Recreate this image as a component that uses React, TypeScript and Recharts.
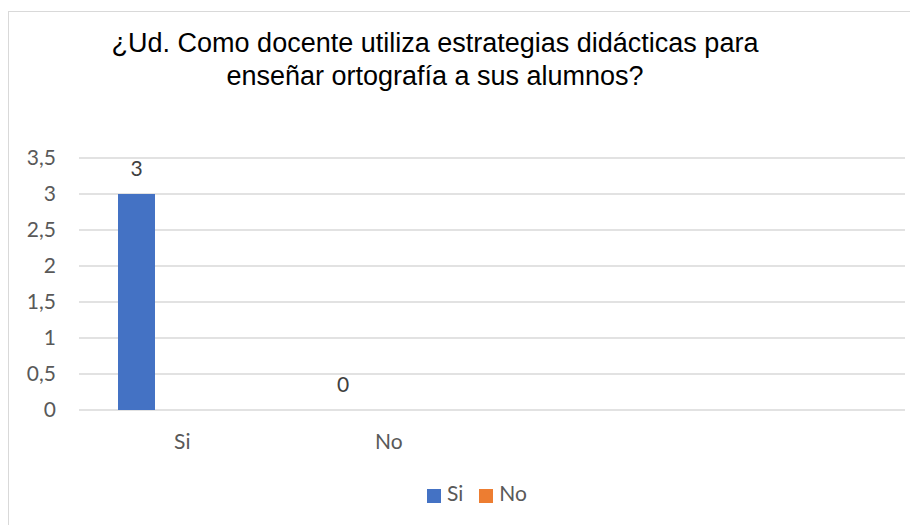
import { BarChart, Bar, XAxis, YAxis, CartesianGrid, Legend } from 'recharts';

const categories = ['Si', 'No', '', ''];
const siValues = [3, 0, null, null];
const noValues = [null, null, null, null];
const yTicks = [0, 0.5, 1, 1.5, 2, 2.5, 3, 3.5];

const data = categories.map((name, i) => ({ name, si: siValues[i], no: noValues[i] }));

const fmt = (v: number) => String(v).replace('.', ',');

// etiqueta encima de la barra (también para valor 0)
const renderLabel = (props: any) => {
    const { x, y, width, value } = props;
    if (value === null || value === undefined) return null;
    return (
        <text
            x={Number(x) + Number(width) / 2}
            y={Number(y) - 18}
            textAnchor="middle"
            fill="#404040"
            fontSize={21}
            fontFamily="Lato, sans-serif"
        >
            {value}
        </text>
    );
};

// barras de valor 0 necesitan un tamaño mínimo para que se dibuje la etiqueta
const minSize = (value: any) => (value === 0 ? 0.01 : 0);

export default function App() {
    return (
        <div
            style={{
                position: 'relative',
                width: 910,
                height: 514,
                marginTop: 3,
                borderTop: '1.5px solid #d9d9d9',
                borderLeft: '1.5px solid #d9d9d9',
                boxSizing: 'border-box',
                background: '#fff',
                fontFamily: 'Lato, sans-serif',
            }}
        >
            <div
                style={{
                    position: 'absolute',
                    left: 0,
                    top: 15,
                    width: 852,
                    textAlign: 'center',
                    fontFamily: '"Liberation Sans", Arial, sans-serif',
                    fontSize: 27,
                    lineHeight: '33px',
                    color: '#000',
                }}
            >
                ¿Ud. Como docente utiliza estrategias didácticas para
                <br />
                enseñar ortografía a sus alumnos?
            </div>
            <div style={{ position: 'absolute', left: 0, top: 0 }}>
                <BarChart
                    width={910}
                    height={514}
                    data={data}
                    margin={{ top: 146, right: 14, left: 0, bottom: 21 }}
                    barSize={37}
                    barGap={54}
                >
                    <CartesianGrid vertical={false} stroke="#d9d9d9" strokeWidth={1.5} />
                    <XAxis
                        dataKey="name"
                        axisLine={false}
                        tickLine={false}
                        height={70}
                        tickMargin={18}
                        tick={{ fill: '#595959', fontSize: 21, fontFamily: 'Lato, sans-serif' }}
                    />
                    <YAxis
                        domain={[0, 3.5]}
                        ticks={yTicks}
                        tickFormatter={fmt}
                        axisLine={false}
                        tickLine={false}
                        tickSize={0}
                        tickMargin={23}
                        width={70}
                        interval={0}
                        tick={{ fill: '#595959', fontSize: 21, fontFamily: 'Lato, sans-serif' }}
                    />
                    <Legend
                        verticalAlign="bottom"
                        align="center"
                        iconType="square"
                        iconSize={14}
                        itemSorter={(item: any) => (item.value === 'Si' ? 0 : 1)}
                        wrapperStyle={{ fontSize: 21, color: '#595959', paddingLeft: 28 }}
                        formatter={(value) => (
                            <span style={{ color: '#595959', marginLeft: 2, marginRight: 6 }}>{value}</span>
                        )}
                    />
                    <Bar
                        dataKey="si"
                        name="Si"
                        fill="#4472C4"
                        isAnimationActive={false}
                        minPointSize={minSize}
                        label={renderLabel}
                    />
                    <Bar
                        dataKey="no"
                        name="No"
                        fill="#ED7D31"
                        isAnimationActive={false}
                        minPointSize={minSize}
                        label={renderLabel}
                    />
                </BarChart>
            </div>
        </div>
    );
}
